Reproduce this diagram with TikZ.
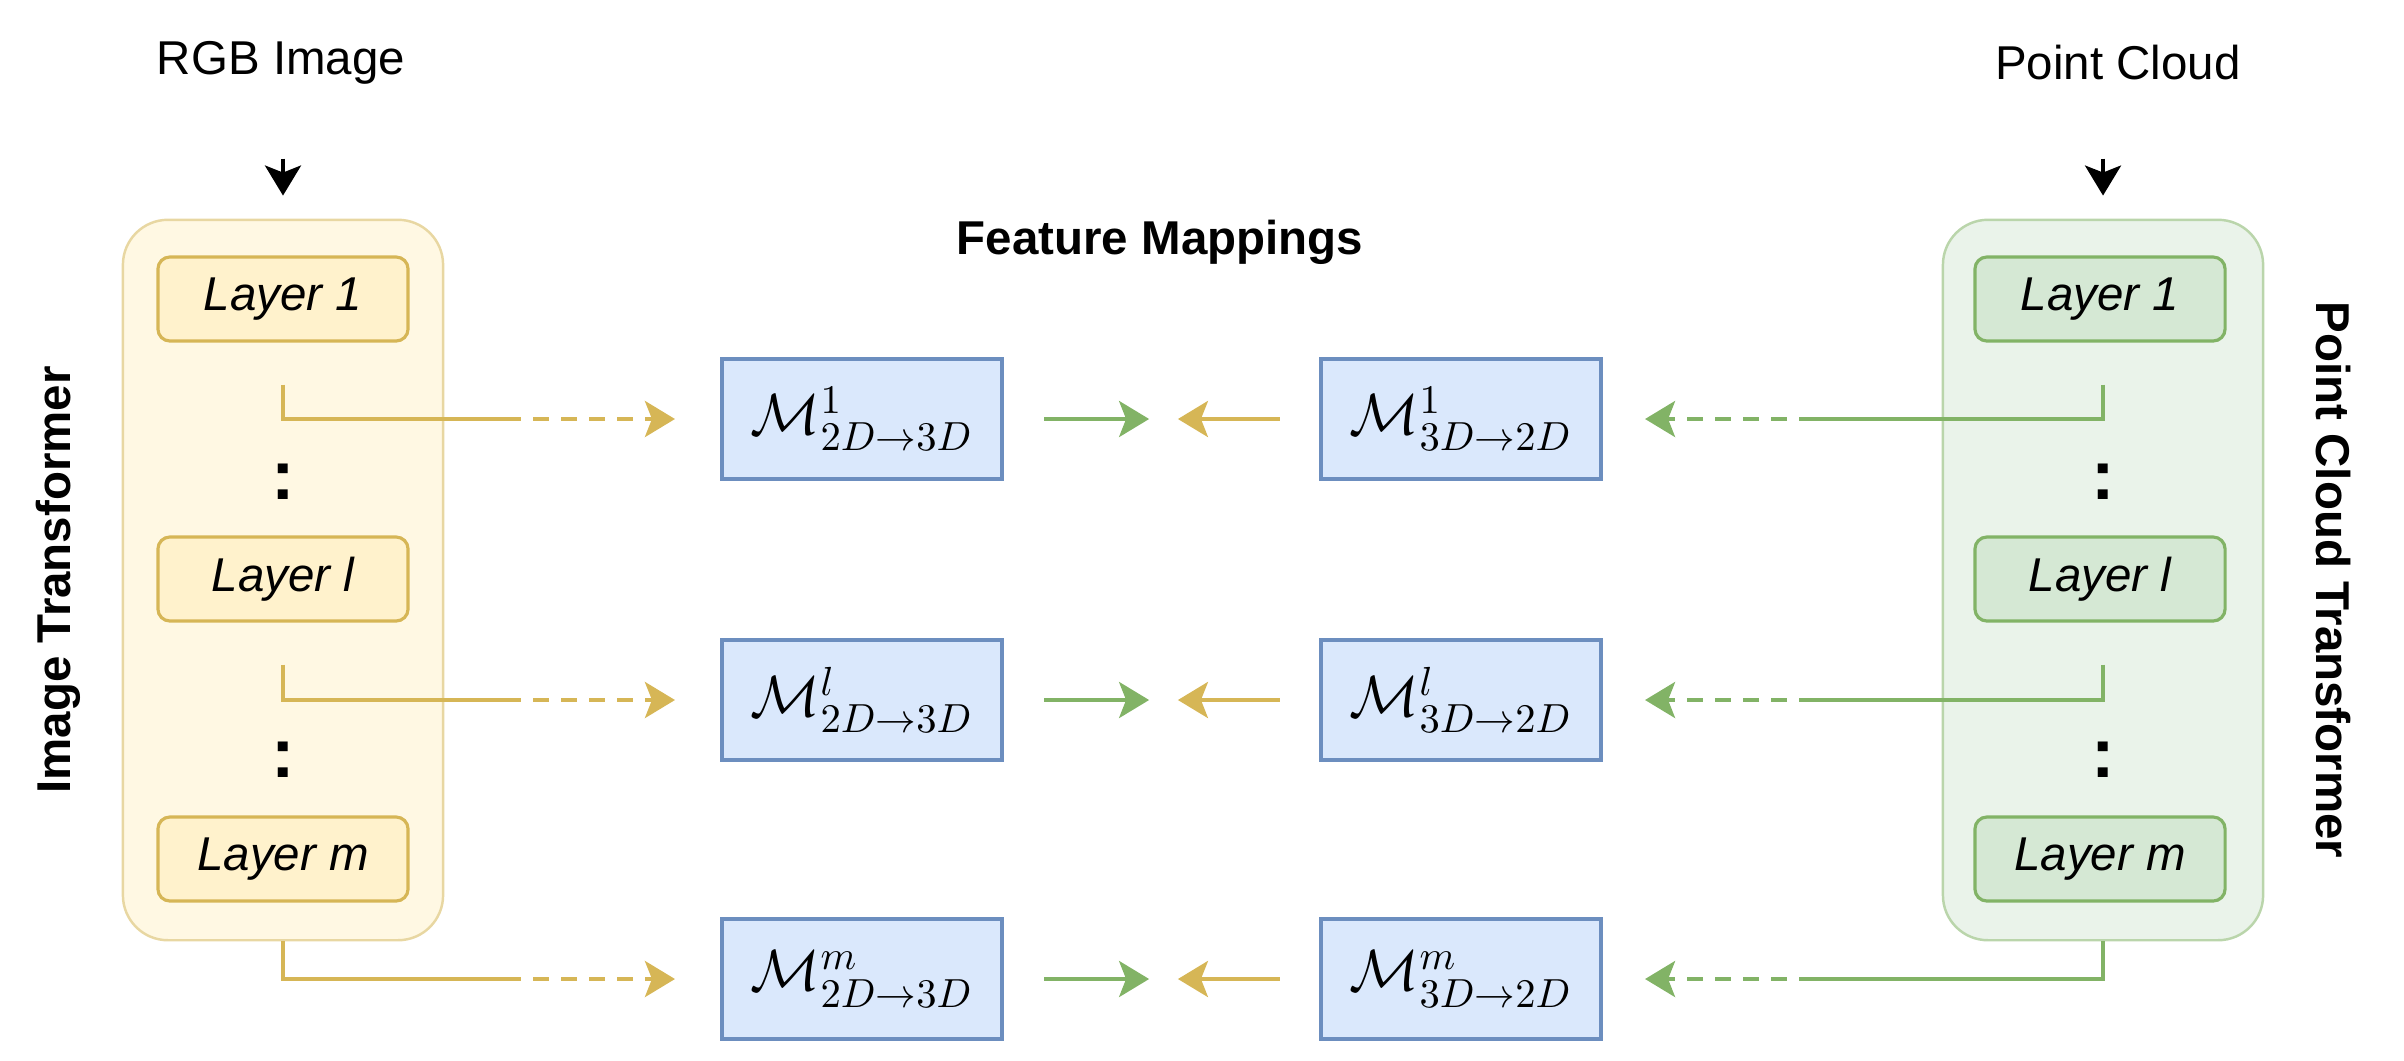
\RequirePackage{fix-cm}
\documentclass[tikz,border=0pt]{standalone}
\usepackage{amsmath}
\usepackage[no-math]{fontspec}
\setmainfont{Liberation Sans}
\usepackage{xcolor}
\usetikzlibrary{arrows.meta, positioning}
\definecolor{imgfill}{HTML}{FFF2CC}
\definecolor{imgline}{HTML}{D6B656}
\definecolor{pclfill}{HTML}{D5E8D4}
\definecolor{pclline}{HTML}{82B366}
\definecolor{mapfill}{HTML}{DAE8FC}
\definecolor{mapline}{HTML}{6C8EBF}

\begin{document}
\begin{tikzpicture}[x=0.01cm, y=-0.01cm,
		txt/.style={font=\fontsize{13.5}{16}\selectfont},
		title/.style={font=\fontsize{13.5}{16}\selectfont\bfseries},
		wrap/.style={rounded corners=0.45cm, line width=0.7pt,
			minimum width=3.2cm, minimum height=7.2cm},
		layer/.style={rounded corners=0.12cm, line width=0.9pt, minimum width=2.5cm,
			minimum height=0.84cm, font=\fontsize{13.5}{16}\selectfont\itshape},
		mapping/.style={draw=mapline, fill=mapfill, line width=1.1pt,
			minimum width=2.8cm, minimum height=1.2cm, font=\fontsize{16.5}{19}\selectfont},
		tip/.style={-{Stealth[length=0.3cm, width=0.36cm, inset=0.07cm]}},
		yline/.style={draw=imgline, line width=1.1pt},
		gline/.style={draw=pclline, line width=1.1pt},
		gap/.style={dash pattern=on 0.16cm off 0.12cm},
		vdots/.style={font=\fontsize{20}{20}\selectfont\bfseries}
	]
		\useasboundingbox (0,0) rectangle (2404,1060);
		% the two transformers
		\node[wrap, draw=imgline!55, fill=imgfill!55] (iwrap) at (283,580) {};
		\node[wrap, draw=pclline!55, fill=pclfill!50] (pwrap) at (2103,580) {};
		\foreach \i/\s/\y in {1/1/299, 2/l/579, 3/m/859} {
			\node[layer, draw=imgline, fill=imgfill] (ilay\i) at (283,\y) {Layer \s};
			\node[layer, draw=pclline, fill=pclfill] (play\i) at (2100,\y) {Layer \s};
		}
		\foreach \y in {482,760} {
			\node[vdots] (idot\y) at (283,\y) {:};
			\node[vdots] (pdot\y) at (2103,\y) {:};
		}
		\node[txt] (rgb) at (281,63) {RGB Image};
		\node[txt] (pcl) at (2118,63) {Point Cloud};
		\node[title] (fm) at (1160,242) {Feature Mappings};
		\node[title, rotate=90] (itf) at (58,580) {Image Transformer};
		\node[title, rotate=-90] (ptf) at (2333,580) {Point Cloud Transformer};
		\draw[line width=1.1pt, tip] ([yshift=0.6cm]iwrap.north) -- ([yshift=0.23cm]iwrap.north);
		\draw[line width=1.1pt, tip] ([yshift=0.6cm]pwrap.north) -- ([yshift=0.23cm]pwrap.north);
		% feature mappings
		\coordinate (isrc1) at ([yshift=-0.42cm]ilay1.south);
		\coordinate (isrc2) at ([yshift=-0.42cm]ilay2.south);
		\coordinate (isrc3) at (iwrap.south);
		\coordinate (psrc1) at ([yshift=-0.42cm]play1.south -| pwrap.north);
		\coordinate (psrc2) at ([yshift=-0.42cm]play2.south -| pwrap.north);
		\coordinate (psrc3) at (pwrap.south);
		\foreach \i/\s/\y in {1/1/419, 2/l/700, 3/m/979} {
			\node[mapping] (mA\i) at (862,\y) {$\mathcal{M}^{\s}_{2D\rightarrow 3D}$};
			\node[mapping] (mB\i) at (1461,\y) {$\mathcal{M}^{\s}_{3D\rightarrow 2D}$};
			\draw[yline] (isrc\i) |- (505,\y) coordinate (ibrk\i);
			\draw[yline, gap, tip] (ibrk\i) -- ([xshift=-0.45cm]mA\i.west);
			\draw[gline] (psrc\i) |- (1815,\y) coordinate (pbrk\i);
			\draw[gline, gap, tip] (pbrk\i) -- ([xshift=0.42cm]mB\i.east);
			\draw[gline, tip] ([xshift=0.4cm]mA\i.east) -- ([xshift=1.45cm]mA\i.east);
			\draw[yline, tip] ([xshift=-0.39cm]mB\i.west) -- ([xshift=-1.41cm]mB\i.west);
		}
	\end{tikzpicture}
\end{document}
